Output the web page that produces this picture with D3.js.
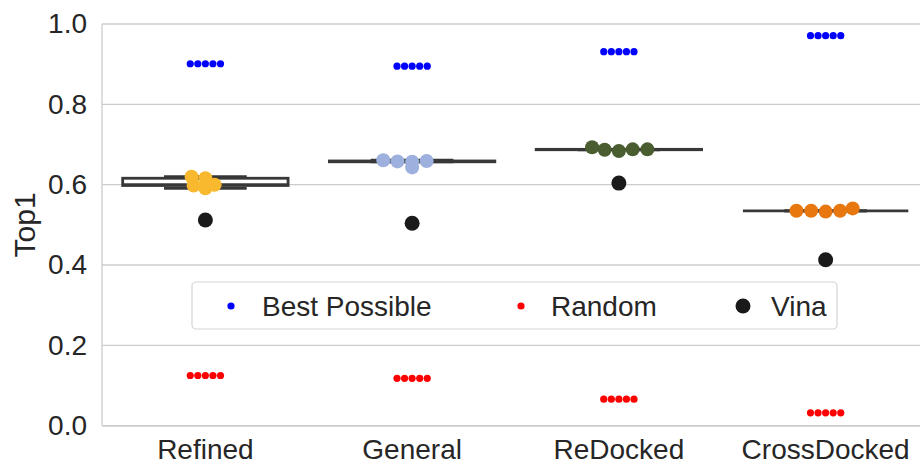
<!DOCTYPE html>
<html>
<head>
<meta charset="utf-8">
<script src="https://cdn.jsdelivr.net/npm/d3@7"></script>
<style>
  html, body { margin: 0; padding: 0; background: #ffffff; }
  svg { display: block; font-family: "Liberation Sans", Arial, sans-serif; }
</style>
</head>
<body>
<svg id="chart" width="920" height="465"></svg>
<script>
// Datasets on the x axis
const categories = ["Refined", "General", "ReDocked", "CrossDocked"];

// Top1 of the five trained models, one array per dataset
const refinedTop1 = [0.620, 0.616, 0.600, 0.591, 0.598];
const generalTop1 = [0.661, 0.658, 0.657, 0.643, 0.659];
const redockedTop1 = [0.693, 0.687, 0.684, 0.688, 0.688];
const crossdockedTop1 = [0.535, 0.535, 0.533, 0.535, 0.541];
const modelTop1 = [refinedTop1, generalTop1, redockedTop1, crossdockedTop1];

// Baselines per dataset
const vinaTop1 = [0.512, 0.504, 0.604, 0.413];
const bestPossible = [
  [0.901, 0.901, 0.901, 0.901, 0.901],
  [0.895, 0.895, 0.895, 0.895, 0.895],
  [0.931, 0.931, 0.931, 0.931, 0.931],
  [0.971, 0.971, 0.971, 0.971, 0.971]
];
const randomTop1 = [
  [0.125, 0.125, 0.125, 0.125, 0.125],
  [0.118, 0.118, 0.118, 0.118, 0.118],
  [0.066, 0.066, 0.066, 0.066, 0.066],
  [0.032, 0.032, 0.032, 0.032, 0.032]
];

const yTicks = [0.0, 0.2, 0.4, 0.6, 0.8, 1.0];
const modelColors = ["#f8b92f", "#9db0de", "#4a5d30", "#e8770f"];
const legendItems = ["Best Possible", "Random", "Vina"];

const svg = d3.select("#chart");
const plot = { left: 102, right: 929, top: 24, bottom: 425.7 };
const ink = "#262626";
const gridColor = "#cccccc";
const boxLine = "#383838";
const fontSize = "28px";

const x = d3.scaleBand().domain(categories).range([plot.left, plot.right]).padding(0);
const y = d3.scaleLinear().domain([0, 1]).range([plot.bottom, plot.top]);
// The swarm is packed on a tighter value range than the one shown,
// so points that are close in value spread less than on screen.
const swarmY = d3.scaleLinear().domain([0.4, 0.733]).range([plot.bottom, plot.top]);
const cx = c => x(c) + x.bandwidth() / 2;

// grid + spines
const grid = svg.append("g");
grid.selectAll("line.h").data(yTicks).join("line")
  .attr("x1", plot.left).attr("x2", 920)
  .attr("y1", d => y(d)).attr("y2", d => y(d))
  .attr("stroke", gridColor).attr("stroke-width", 1.3);
grid.append("line")
  .attr("x1", plot.left).attr("x2", plot.left)
  .attr("y1", plot.top).attr("y2", plot.bottom)
  .attr("stroke", gridColor).attr("stroke-width", 1.3);

// y axis
const yAxis = svg.append("g")
  .attr("transform", `translate(${plot.left},0)`)
  .call(d3.axisLeft(y).tickValues(yTicks).tickFormat(d3.format(".1f")).tickSize(0).tickPadding(15));
yAxis.select(".domain").remove();
yAxis.selectAll("text").attr("fill", ink).style("font-size", fontSize)
  .style("font-family", "'Liberation Sans', Arial, sans-serif");

// x axis
const xAxis = svg.append("g")
  .attr("transform", `translate(0,${plot.bottom})`)
  .call(d3.axisBottom(x).tickSize(0).tickPadding(13));
xAxis.select(".domain").attr("stroke", gridColor).attr("stroke-width", 1.3);
xAxis.selectAll("text").attr("fill", ink).style("font-size", fontSize)
  .style("font-family", "'Liberation Sans', Arial, sans-serif");

// y label
svg.append("text")
  .attr("transform", `translate(35,${(plot.top + plot.bottom) / 2}) rotate(-90)`)
  .attr("text-anchor", "middle")
  .attr("fill", ink)
  .style("font-size", "30px")
  .text("Top1");

// Box plots of the model scores
function boxStats(vals) {
  const s = vals.slice().sort(d3.ascending);
  const q1 = d3.quantileSorted(s, 0.25), med = d3.quantileSorted(s, 0.5), q3 = d3.quantileSorted(s, 0.75);
  const iqr = q3 - q1;
  const lo = d3.min(s.filter(v => v >= q1 - 1.5 * iqr - 1e-9));
  const hi = d3.max(s.filter(v => v <= q3 + 1.5 * iqr + 1e-9));
  return { q1, med, q3, lo, hi };
}
const boxW = x.bandwidth() * 0.8;
const boxes = svg.append("g");
categories.forEach((c, i) => {
  const st = boxStats(modelTop1[i]);
  const g = boxes.append("g").attr("stroke", boxLine).attr("stroke-width", 2.8).attr("fill", "none");
  g.append("line").attr("x1", cx(c)).attr("x2", cx(c)).attr("y1", y(st.q1)).attr("y2", y(st.lo));
  g.append("line").attr("x1", cx(c)).attr("x2", cx(c)).attr("y1", y(st.q3)).attr("y2", y(st.hi));
  g.append("line").attr("x1", cx(c) - boxW / 4).attr("x2", cx(c) + boxW / 4).attr("y1", y(st.lo)).attr("y2", y(st.lo));
  g.append("line").attr("x1", cx(c) - boxW / 4).attr("x2", cx(c) + boxW / 4).attr("y1", y(st.hi)).attr("y2", y(st.hi));
  g.append("rect").attr("x", cx(c) - boxW / 2).attr("width", boxW)
    .attr("y", y(st.q3)).attr("height", Math.max(y(st.q1) - y(st.q3), 0))
    .attr("fill", "#ffffff");
  g.append("line").attr("x1", cx(c) - boxW / 2).attr("x2", cx(c) + boxW / 2).attr("y1", y(st.med)).attr("y2", y(st.med));
});

// Beeswarm placement: points sorted by value, each put at the candidate
// closest to the category centre that does not collide with earlier ones.
function beeswarm(values, center, r) {
  const pts = values.map(v => ({ v, sy: swarmY(v) })).sort((a, b) => a.v - b.v);
  const placed = [];
  for (const p of pts) {
    const nb = placed.filter(q => Math.abs(q.sy - p.sy) < 2 * r);
    const cands = [center];
    let leftFirst = true;
    for (const q of nb) {
      const dy = p.sy - q.sy;
      const dx = Math.sqrt(Math.max(4 * r * r - dy * dy, 0)) * 1.05;
      if (leftFirst) cands.push(q.x - dx, q.x + dx); else cands.push(q.x + dx, q.x - dx);
      leftFirst = !leftFirst;
    }
    const order = cands.map((c, k) => ({ c, k }))
      .sort((a, b) => (Math.abs(a.c - center) - Math.abs(b.c - center)) || (a.k - b.k));
    p.x = center;
    for (const o of order) {
      if (nb.every(q => (q.x - o.c) ** 2 + (q.sy - p.sy) ** 2 >= 4 * r * r - 1e-6)) { p.x = o.c; break; }
    }
    placed.push(p);
  }
  return placed;
}

function drawSwarm(groups, r, fill) {
  const g = svg.append("g");
  categories.forEach((c, i) => {
    const pts = beeswarm(groups[i], cx(c), r);
    g.selectAll(null).data(pts).join("circle")
      .attr("cx", d => d.x).attr("cy", d => y(d.v)).attr("r", r)
      .attr("fill", typeof fill === "function" ? fill(i) : fill);
  });
}

drawSwarm(modelTop1, 7, i => modelColors[i]);
drawSwarm(vinaTop1.map(v => [v]), 7.5, "#1a1a1a");
drawSwarm(bestPossible, 3.6, "#0000ff");
drawSwarm(randomTop1, 3.6, "#ff0000");

// Legend
const legend = svg.append("g");
legend.append("rect")
  .attr("x", 192).attr("y", 282).attr("width", 645).attr("height", 47)
  .attr("rx", 4).attr("fill", "#ffffff").attr("fill-opacity", 0.8)
  .attr("stroke", "#d4d4d4").attr("stroke-width", 1.2);
const legendX = [231, 521, 743];
const legendR = [3.6, 3.6, 7.5];
const legendFill = ["#0000ff", "#ff0000", "#1a1a1a"];
const legendTextX = [262, 551, 771];
legendItems.forEach((name, k) => {
  legend.append("circle").attr("cx", legendX[k]).attr("cy", 306).attr("r", legendR[k]).attr("fill", legendFill[k]);
  legend.append("text").attr("x", legendTextX[k]).attr("y", 316)
    .attr("fill", ink).style("font-size", fontSize).text(name);
});
</script>
</body>
</html>
